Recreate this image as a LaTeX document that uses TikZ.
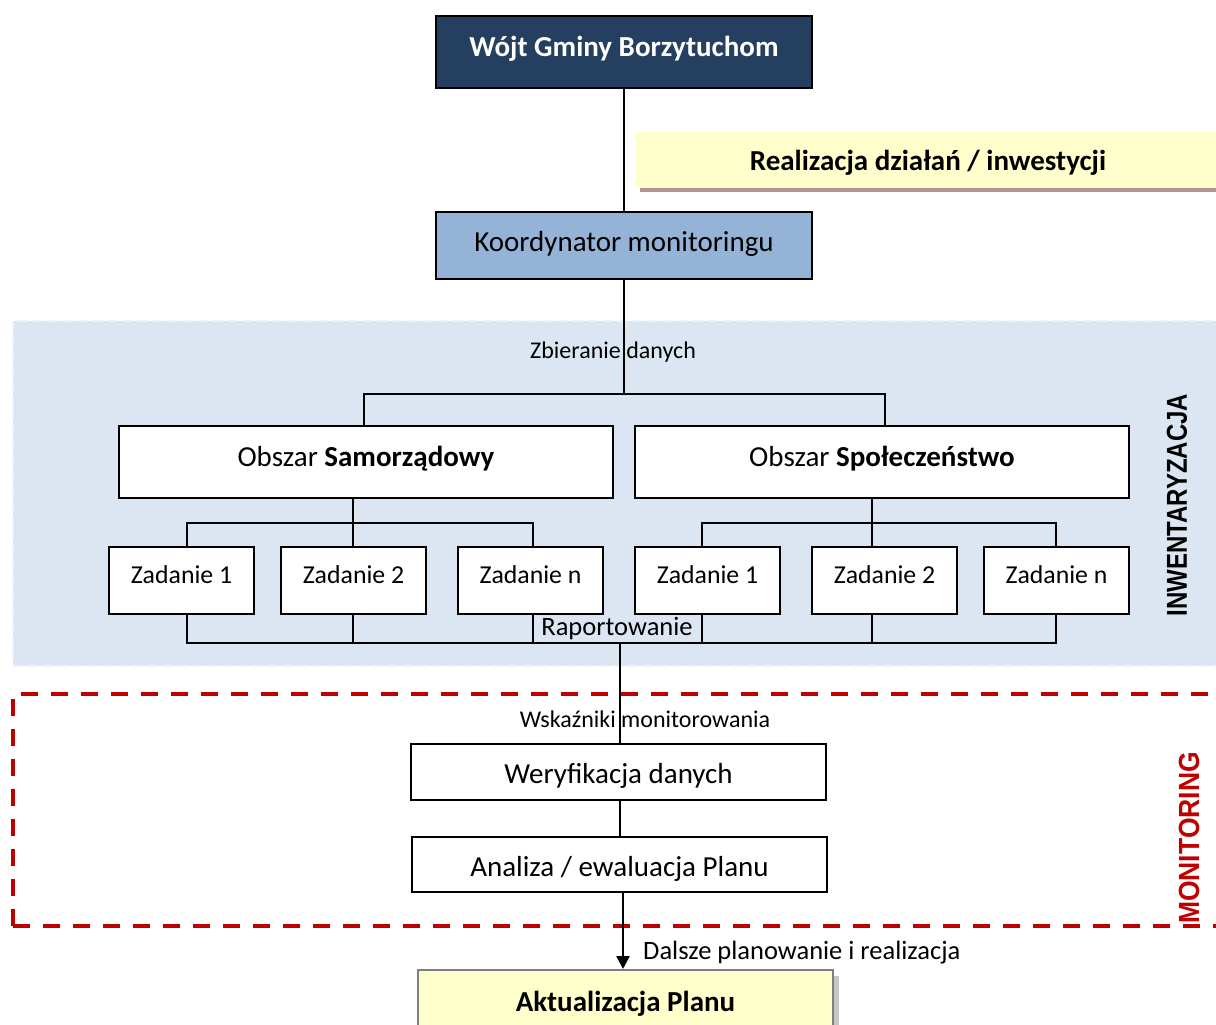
\documentclass[tikz,border=0pt]{standalone}
\usepackage{fontspec}
\setmainfont{Carlito}
\newfontfamily\arialf{Liberation Sans}
\usetikzlibrary{arrows.meta}
\definecolor{navy}{HTML}{243F60}
\definecolor{koordblue}{HTML}{95B3D7}
\definecolor{regionblue}{HTML}{DCE6F2}
\definecolor{paleyellow}{HTML}{FFFFCC}
\definecolor{shadowbrown}{HTML}{B39494}
\definecolor{darkred}{HTML}{C00000}
\tikzset{
  box/.style={draw=black, line width=2pt, fill=white, inner sep=0pt, align=center, text depth=0pt},
  bigtxt/.style={font=\fontsize{29}{32}\selectfont},
  midtxt/.style={font=\fontsize{25.8}{28}\selectfont},
  smalltxt/.style={font=\fontsize{24}{27}\selectfont, inner sep=0pt},
  conn/.style={draw=black, line width=2pt},
  taskbox/.style={box, minimum width=145pt, minimum height=67pt, midtxt, text height=5pt},
}
\begin{document}
\begin{tikzpicture}[x=1pt,y=-1pt]
\useasboundingbox (0,0) rectangle (1216,1025);
\clip (0,0) rectangle (1216,1025);
% regions
\fill[regionblue] (13,321) rectangle (1220,666);
\draw[white!55!regionblue, line width=1.5pt, dash pattern=on 9pt off 6pt] (13,321) rectangle (1220,666);
\draw[darkred, line width=4pt, dash pattern=on 17pt off 13pt] (13,926) -- (13,694) -- (1230,694);
\draw[darkred, line width=4pt, dash pattern=on 17pt off 13pt] (13,926) -- (1230,926);
% banner
\fill[shadowbrown] (640,186) rectangle (1220,192);
\node[fill=paleyellow, minimum width=584pt, minimum height=56pt, inner sep=0pt, text depth=0pt, text height=20.4pt, font=\fontsize{29}{32}\selectfont\bfseries] (banner) at (928,160) {Realizacja działań / inwestycji};
% top boxes
\node[box, fill=navy, text=white, minimum width=376pt, minimum height=72pt, text height=8.4pt, font=\fontsize{29}{32}\selectfont\bfseries] (wojt) at (624,52) {Wójt Gminy Borzytuchom};
\node[box, fill=koordblue, minimum width=376pt, minimum height=67pt, text height=11.4pt, bigtxt] (koord) at (624,245.5) {Koordynator monitoringu};
\draw[conn] (wojt.south) -- (koord.north);
% areas
\node[box, minimum width=494pt, minimum height=72pt, text height=8.4pt, bigtxt] (samo) at (366,462) {Obszar \textbf{Samorządowy}};
\node[box, minimum width=494pt, minimum height=72pt, text height=8.4pt, bigtxt] (spol) at (882,462) {Obszar \textbf{Społeczeństwo}};
\coordinate (c1) at (624,394);
\draw[conn] (koord.south) -- (c1);
\draw[conn] (samo.north -| 364,0) -- (364,394) -- (885,394) -- (spol.north -| 885,0);
\node[smalltxt] (zbier) at (613,352) {Zbieranie danych};
% tasks
\node[taskbox] (z1) at (181.5,580.5) {Zadanie 1};
\node[taskbox] (z2) at (353.5,580.5) {Zadanie 2};
\node[taskbox] (z3) at (530.5,580.5) {Zadanie n};
\node[taskbox] (z4) at (707.5,580.5) {Zadanie 1};
\node[taskbox] (z5) at (884.5,580.5) {Zadanie 2};
\node[taskbox] (z6) at (1056.5,580.5) {Zadanie n};
% left tree
\draw[conn] (samo.south -| 353,0) -- (353,523);
\draw[conn] (z1.north -| 187,0) -- (187,523) -- (533,523) -- (z3.north -| 533,0);
\draw[conn] (z2.north -| 353,0) -- (353,523);
% right tree
\draw[conn] (spol.south -| 872,0) -- (872,523);
\draw[conn] (z4.north -| 702,0) -- (702,523) -- (1056,523) -- (z6.north -| 1056,0);
\draw[conn] (z5.north -| 872,0) -- (872,523);
% reporting
\draw[conn] (z1.south -| 187,0) -- (187,643) -- (1056,643) -- (z6.south -| 1056,0);
\draw[conn] (z2.south -| 353,0) -- (353,643);
\draw[conn] (z3.south -| 533,0) -- (533,643);
\draw[conn] (z4.south -| 702,0) -- (702,643);
\draw[conn] (z5.south -| 872,0) -- (872,643);
\node[smalltxt, font=\fontsize{26.5}{29}\selectfont] (rap) at (617,629) {Raportowanie};
% monitoring
\node[box, minimum width=415pt, minimum height=56pt, text height=22.4pt, bigtxt] (wer) at (618.5,772) {Weryfikacja danych};
\node[box, minimum width=415pt, minimum height=55pt, text height=23.4pt, bigtxt] (ana) at (619.5,864.5) {Analiza / ewaluacja Planu};
\draw[conn] (620,643) -- (wer.north -| 620,0);
\node[smalltxt] (wsk) at (645,719) {Wskaźniki monitorowania};
\draw[conn] (wer.south -| 620,0) -- (ana.north -| 620,0);
% update
\fill[gray!45] (424,976) rectangle (839,1040);
\node[draw=gray, line width=2pt, fill=paleyellow, minimum width=415pt, minimum height=70pt, inner sep=0pt, font=\fontsize{29}{32}\selectfont\bfseries, text depth=0pt, text height=12.4pt] (akt) at (625.5,1005) {Aktualizacja Planu};
\draw[line width=2.5pt, -{Triangle[width=13pt,length=13pt]}] (ana.south -| 623,0) -- (akt.north -| 623,0);
\node[smalltxt, font=\fontsize{26.5}{29}\selectfont, anchor=west] (dal) at (643,953) {Dalsze planowanie i realizacja};
% side labels
\node[rotate=90, font=\arialf\fontsize{24}{26}\selectfont\bfseries] (inw) at (1177,505) {\scalebox{1}[1.2]{INWENTARYZACJA}};
\node[rotate=90, text=darkred, font=\arialf\fontsize{26.5}{28}\selectfont\bfseries] (mon) at (1189,838) {\scalebox{1}[1.1]{MONITORING}};
\end{tikzpicture}
\end{document}
